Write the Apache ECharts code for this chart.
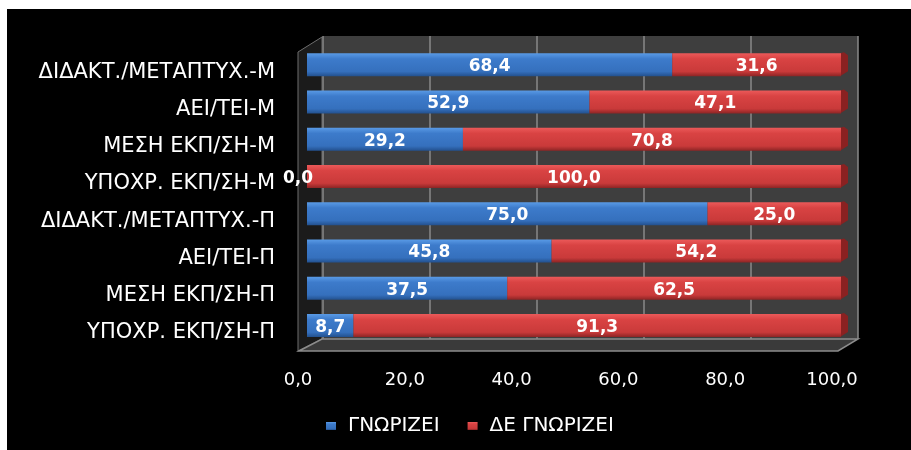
<!DOCTYPE html>
<html>
<head>
<meta charset="utf-8">
<script src="https://cdn.jsdelivr.net/npm/echarts@6/dist/echarts.min.js"></script>
<style>
html,body{margin:0;padding:0;background:#fff;width:911px;height:450px;overflow:hidden;}
#c{position:absolute;left:7px;top:9px;width:904px;height:441px;background:#000;}
</style>
</head>
<body>
<div id="c"></div>
<script>
const categories = [
  'ΔΙΔΑΚΤ./ΜΕΤΑΠΤΥΧ.-Μ',
  'ΑΕΙ/ΤΕΙ-Μ',
  'ΜΕΣΗ ΕΚΠ/ΣΗ-Μ',
  'ΥΠΟΧΡ. ΕΚΠ/ΣΗ-Μ',
  'ΔΙΔΑΚΤ./ΜΕΤΑΠΤΥΧ.-Π',
  'ΑΕΙ/ΤΕΙ-Π',
  'ΜΕΣΗ ΕΚΠ/ΣΗ-Π',
  'ΥΠΟΧΡ. ΕΚΠ/ΣΗ-Π'
];
const knows = [68.4, 52.9, 29.2, 0.0, 75.0, 45.8, 37.5, 8.7];
const notKnows = [31.6, 47.1, 70.8, 100.0, 25.0, 54.2, 62.5, 91.3];
const seriesNames = ['ΓΝΩΡΙΖΕΙ', 'ΔΕ ΓΝΩΡΙΖΕΙ'];

const fmt = v => Number(v).toFixed(1).replace('.', ',');
const totals = knows.map((v, i) => v + notKnows[i]);

const chart = echarts.init(document.getElementById('c'), null, {renderer: 'canvas'});

const blueGrad = new echarts.graphic.LinearGradient(0, 0, 0, 1, [
  {offset: 0, color: '#5a9be6'},
  {offset: 0.25, color: '#3d7bcb'},
  {offset: 0.8, color: '#3570bd'},
  {offset: 1, color: '#23518f'}
]);
const redGrad = new echarts.graphic.LinearGradient(0, 0, 0, 1, [
  {offset: 0, color: '#ec5a5a'},
  {offset: 0.25, color: '#d94343'},
  {offset: 0.8, color: '#c93a3a'},
  {offset: 1, color: '#8e2525'}
]);

const valueLabel = {
  show: true,
  position: 'inside',
  color: '#fff',
  fontFamily: 'DejaVu Sans',
  fontWeight: 'bold',
  fontSize: 17,
  offset: [0, 2],
  formatter: p => fmt(p.value)
};

const option = {
  backgroundColor: '#000',
  animation: false,
  graphic: [
    {type: 'polygon', z: -5, silent: true,
     shape: {points: [[291, 43], [315, 28], [315, 330], [291, 342]]},
     style: {fill: '#1b1b1b', stroke: '#6e6e6e', lineWidth: 1}},
    {type: 'polygon', z: -5, silent: true,
     shape: {points: [[292, 342], [315, 330], [851, 330], [831, 342]]},
     style: {fill: '#3a3a3a', stroke: '#8c8c8c', lineWidth: 1.5}}
  ],
  grid: [
    {left: 300, top: 37, width: 534, height: 298, containLabel: false},
    {left: 316, top: 27, width: 535, height: 303, show: true, backgroundColor: '#3e3e3e', borderWidth: 0, z: -10}
  ],
  legend: {
    data: seriesNames,
    left: 314,
    top: 402,
    itemWidth: 10,
    itemHeight: 8,
    itemGap: 28,
    icon: 'rect',
    textStyle: {color: '#fff', fontFamily: 'DejaVu Sans', fontSize: 20, padding: [0, 0, 0, 7]}
  },
  xAxis: [
    {
      gridIndex: 0, type: 'value', min: 0, max: 100, interval: 20,
      axisLine: {show: false}, axisTick: {show: false}, splitLine: {show: false},
      axisLabel: {
        color: '#fff', fontFamily: 'DejaVu Sans', fontSize: 18, margin: 27,
        padding: [0, 18, 0, 0],
        formatter: v => fmt(v)
      }
    },
    {
      gridIndex: 1, type: 'value', min: 0, max: 100, interval: 20,
      axisLine: {show: false}, axisTick: {show: false}, axisLabel: {show: false},
      splitLine: {show: true, lineStyle: {color: '#8a8a8a', width: 1.5}}
    }
  ],
  yAxis: [
    {
      gridIndex: 0, type: 'category', data: categories, inverse: true,
      axisLine: {show: false}, axisTick: {show: false},
      axisLabel: {color: '#fff', fontFamily: 'DejaVu Sans', fontSize: 21, margin: 32,
        verticalAlign: 'top', lineHeight: 15}
    },
    {gridIndex: 1, type: 'value', show: false}
  ],
  series: [
    {
      name: seriesNames[0], type: 'bar', stack: 'a', barWidth: 23,
      xAxisIndex: 0, yAxisIndex: 0,
      data: knows.map(v => v === 0 ? {value: v, label: {offset: [-9, 2]}} : v),
      itemStyle: {color: blueGrad},
      label: valueLabel
    },
    {
      name: seriesNames[1], type: 'bar', stack: 'a', barWidth: 23,
      xAxisIndex: 0, yAxisIndex: 0,
      data: notKnows,
      itemStyle: {color: redGrad},
      label: valueLabel
    },
    {
      name: 'cap', type: 'custom', xAxisIndex: 0, yAxisIndex: 0, z: 1,
      silent: true, legendHoverLink: false,
      data: totals.map((t, i) => [t, i]),
      renderItem: function (params, api) {
        const p = api.coord([api.value(0), api.value(1)]);
        const h = 23;
        const top = p[1] - h / 2, bot = p[1] + h / 2;
        return {
          type: 'polygon',
          shape: {points: [[p[0] - 1, top], [p[0] + 3, top - 1], [p[0] + 7, top + 2], [p[0] + 7, bot - 5], [p[0] - 1, bot]]},
          style: {fill: '#8a2121'}
        };
      }
    }
  ]
};
chart.setOption(option);
</script>
</body>
</html>
